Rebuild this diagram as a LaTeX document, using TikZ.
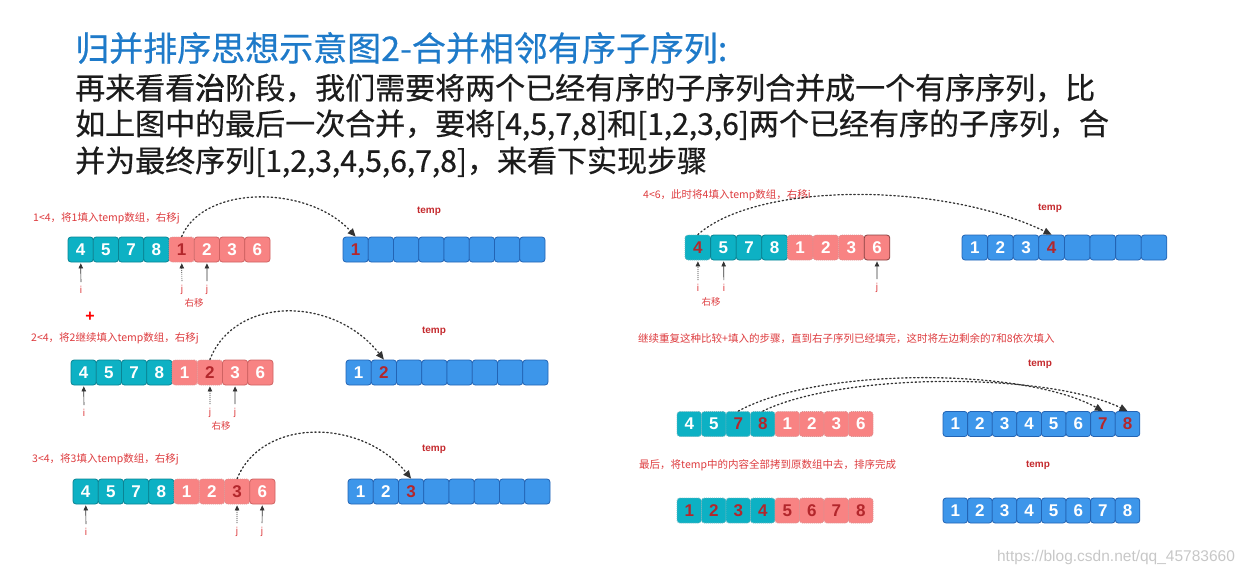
\documentclass[tikz,border=0pt]{standalone}
\usepackage{fontspec}
\usepackage{xcolor}
\usetikzlibrary{arrows.meta,positioning}
\newfontfamily\cjk{Noto Sans CJK SC}
\newfontfamily\cjkmid[FakeBold=0.6]{Noto Sans CJK SC}
\newfontfamily\cjkbold[FakeBold=2.2]{Noto Sans CJK SC}
\newfontfamily\digitfont{Liberation Sans}
\definecolor{titleblue}{HTML}{1E7AC9}
\definecolor{bodyink}{HTML}{1C1C1C}
\definecolor{seafill}{HTML}{0DB1C4}
\definecolor{seaedge}{HTML}{0A8494}
\definecolor{rosefill}{HTML}{F88383}
\definecolor{roseedge}{HTML}{CF6262}
\definecolor{skyfill}{HTML}{3D96EA}
\definecolor{skyedge}{HTML}{2364B4}
\definecolor{hotred}{HTML}{B3272C}
\definecolor{labelred}{HTML}{DD3B3E}
\definecolor{tempred}{HTML}{C42A2E}
\tikzset{
  cell/.style={
    rectangle, rounded corners=3pt, line width=0.8pt,
    minimum height=25pt, inner sep=0pt, text=white,
    font=\digitfont\bfseries\fontsize{17}{17}\selectfont
  },
  tealbox/.style={cell, draw=seaedge, fill=seafill},
  tealold/.style={cell, draw=seaedge!60, fill=seafill, dash pattern=on 1pt off 1pt},
  tealnew/.style={tealold, text=hotred},
  pinkbox/.style={cell, draw=roseedge, fill=rosefill},
  pinkdark/.style={pinkbox, draw=roseedge!65!black},
  pinkold/.style={cell, draw=roseedge!70, fill=rosefill, dash pattern=on 1pt off 1pt},
  pinknew/.style={pinkold, text=hotred},
  tempbox/.style={cell, draw=skyedge, fill=skyfill},
  tempnew/.style={tempbox, text=hotred},
  steplabel/.style={
    anchor=west, inner sep=0pt, text=labelred,
    font=\cjk\fontsize{10.5}{12}\selectfont
  },
  templabel/.style={
    inner sep=0pt, text=tempred,
    font=\digitfont\bfseries\fontsize{10}{12}\selectfont
  },
  ptrlabel/.style={
    inner sep=1pt, text=labelred,
    font=\digitfont\fontsize{10}{12}\selectfont
  },
  movelabel/.style={
    inner sep=0pt, text=labelred,
    font=\cjk\fontsize{9.5}{11}\selectfont
  },
  ptr/.style={
    -{Triangle[length=5pt,width=4.5pt]}, line width=0.7pt,
    draw=black!80, shorten <=3pt, shorten >=1pt
  },
  oldptr/.style={ptr, dash pattern=on 1pt off 1pt},
  hop/.style={
    -{Triangle[length=8pt,width=7pt]}, line width=1.3pt, draw=black!80,
    dash pattern=on 1.4pt off 2.6pt, line cap=round
  },
}

\begin{document}
\begin{tikzpicture}[x=1pt, y=-1pt]
  \useasboundingbox (0,0) rectangle (1247,576);
  \begin{scope}
  \clip (0,0) rectangle (1247,539);

  % Heading and text
  \node[anchor=west, inner sep=0pt, text=titleblue,
        font=\cjkmid\fontsize{34}{40}\selectfont] (title) at (75,48)
        {归并排序思想示意图2-合并相邻有序子序列:};
  \node[anchor=west, inner sep=0pt, text=bodyink,
        font=\cjkmid\fontsize{30}{36}\selectfont] (body1) at (75,88)
        {再来看看{\cjkbold 治}阶段，我们需要将两个已经有序的子序列合并成一个有序序列，比};
  \node[anchor=west, inner sep=0pt, text=bodyink,
        font=\cjkmid\fontsize{30}{36}\selectfont] (body2) at (75,125)
        {如上图中的最后一次合并，要将[4,5,7,8]和[1,2,3,6]两个已经有序的子序列，合};
  \node[anchor=west, inner sep=0pt, text=bodyink,
        font=\cjkmid\fontsize{30}{36}\selectfont] (body3) at (75,162)
        {并为最终序列[1,2,3,4,5,6,7,8]，来看下实现步骤};

  % Step 1: 1 < 4
  \node[steplabel] (s1) at (33,218) {1<4，将1填入temp数组，右移j};
  \node[templabel] (tl1) at (429,211) {temp};
  \foreach \v/\s [count=\k] in {4/tealbox,5/tealbox,7/tealbox,8/tealbox,
                                1/pinknew,2/pinkbox,3/pinkbox,6/pinkbox}
    \node[\s, minimum width=25.25pt] (l1-\k) at ({68+(\k-0.5)*25.25},249.5) {\v};
  \foreach \v/\s [count=\k] in {1/tempnew,{}/tempbox,{}/tempbox,{}/tempbox,
                                {}/tempbox,{}/tempbox,{}/tempbox,{}/tempbox}
    \node[\s, minimum width=25.25pt] (t1-\k) at ({343+(\k-0.5)*25.25},249.5) {\v};
  \node[ptrlabel] (l1i) at (81,290) {i};
  \node[ptrlabel] (l1jold) at (182,290) {j};
  \node[ptrlabel] (l1j) at (207,290) {j};
  \node[movelabel] (l1mv) at (194,303) {右移};
  \draw[ptr] (l1i) -- (l1-1);
  \draw[oldptr] (l1jold) -- (l1-5);
  \draw[ptr] (l1j) -- (l1-6);
  \draw[hop] (l1-5.north) .. controls +(22,-52) and +(-48,-52) .. (t1-1.north);

  % Step 2: 2 < 4
  \node[text=red, inner sep=0pt, font=\digitfont\bfseries\fontsize{16}{16}\selectfont]
        (cursor) at (90,317) {+};
  \node[steplabel] (s2) at (31,338) {2<4，将2继续填入temp数组，右移j};
  \node[templabel] (tl2) at (434,331) {temp};
  \foreach \v/\s [count=\k] in {4/tealbox,5/tealbox,7/tealbox,8/tealbox,
                                1/pinkold,2/pinknew,3/pinkbox,6/pinkbox}
    \node[\s, minimum width=25.25pt] (l2-\k) at ({71+(\k-0.5)*25.25},372.5) {\v};
  \foreach \v/\s [count=\k] in {1/tempbox,2/tempnew,{}/tempbox,{}/tempbox,
                                {}/tempbox,{}/tempbox,{}/tempbox,{}/tempbox}
    \node[\s, minimum width=25.25pt] (t2-\k) at ({346+(\k-0.5)*25.25},372.5) {\v};
  \node[ptrlabel] (l2i) at (84,413) {i};
  \node[ptrlabel] (l2jold) at (210,413) {j};
  \node[ptrlabel] (l2j) at (235,413) {j};
  \node[movelabel] (l2mv) at (221,426) {右移};
  \draw[ptr] (l2i) -- (l2-1);
  \draw[oldptr] (l2jold) -- (l2-6);
  \draw[ptr] (l2j) -- (l2-7);
  \draw[hop] (l2-6.north) .. controls +(25,-64) and +(-50,-64) .. (t2-2.north);

  % Step 3: 3 < 4
  \node[steplabel] (s3) at (32,459) {3<4，将3填入temp数组，右移j};
  \node[templabel] (tl3) at (434,449) {temp};
  \foreach \v/\s [count=\k] in {4/tealbox,5/tealbox,7/tealbox,8/tealbox,
                                1/pinkold,2/pinkold,3/pinknew,6/pinkbox}
    \node[\s, minimum width=25.25pt] (l3-\k) at ({73+(\k-0.5)*25.25},491.5) {\v};
  \foreach \v/\s [count=\k] in {1/tempbox,2/tempbox,3/tempnew,{}/tempbox,
                                {}/tempbox,{}/tempbox,{}/tempbox,{}/tempbox}
    \node[\s, minimum width=25.25pt] (t3-\k) at ({348+(\k-0.5)*25.25},491.5) {\v};
  \node[ptrlabel] (l3i) at (86,532) {i};
  \node[ptrlabel] (l3jold) at (237,532) {j};
  \node[ptrlabel] (l3j) at (262,532) {j};
  \draw[ptr] (l3i) -- (l3-1);
  \draw[oldptr] (l3jold) -- (l3-7);
  \draw[ptr] (l3j) -- (l3-8);
  \draw[hop] (l3-7.north) .. controls +(25,-61) and +(-50,-61) .. (t3-3.north);

  % Step 4: 4 < 6
  \node[steplabel] (s4) at (643,195) {4<6，此时将4填入temp数组，右移i};
  \node[templabel] (tl4) at (1050,208) {temp};
  \foreach \v/\s [count=\k] in {4/tealnew,5/tealbox,7/tealbox,8/tealbox,
                                1/pinkold,2/pinkold,3/pinkold,6/pinkdark}
    \node[\s, minimum width=25.6pt] (r1-\k) at ({685+(\k-0.5)*25.6},247.5) {\v};
  \foreach \v/\s [count=\k] in {1/tempbox,2/tempbox,3/tempbox,4/tempnew,
                                {}/tempbox,{}/tempbox,{}/tempbox,{}/tempbox}
    \node[\s, minimum width=25.6pt] (tr1-\k) at ({962+(\k-0.5)*25.6},247.5) {\v};
  \node[ptrlabel] (r1iold) at (698,288) {i};
  \node[ptrlabel] (r1i) at (724,288) {i};
  \node[ptrlabel] (r1j) at (877,288) {j};
  \node[movelabel] (r1mv) at (711,302) {右移};
  \draw[oldptr] (r1iold) -- (r1-1);
  \draw[ptr] (r1i) -- (r1-2);
  \draw[ptr] (r1j) -- (r1-8);
  \draw[hop] (r1-1.north) .. controls +(60,-53) and +(-110,-53) .. (tr1-4.north);

  % Step 5: copy the rest
  \node[steplabel] (s5) at (638,339)
        {继续重复这种比较+填入的步骤，直到右子序列已经填完，这时将左边剩余的7和8依次填入};
  \node[templabel] (tl5) at (1040,364) {temp};
  \foreach \v/\s [count=\k] in {4/tealold,5/tealold,7/tealnew,8/tealnew,
                                1/pinkold,2/pinkold,3/pinkold,6/pinkold}
    \node[\s, minimum width=24.5pt] (r2-\k) at ({677+(\k-0.5)*24.5},424) {\v};
  \foreach \v/\s [count=\k] in {1/tempbox,2/tempbox,3/tempbox,4/tempbox,
                                5/tempbox,6/tempbox,7/tempnew,8/tempnew}
    \node[\s, minimum width=24.6pt] (tr2-\k) at ({943+(\k-0.5)*24.6},424) {\v};
  \draw[hop] (r2-3.north) .. controls +(80,-44) and +(-80,-44) .. (tr2-7.north);
  \draw[hop] (r2-4.north) .. controls +(80,-39) and +(-80,-39) .. (tr2-8.north);

  % Step 6: copy back
  \node[steplabel] (s6) at (639,465) {最后，将temp中的内容全部拷到原数组中去，排序完成};
  \node[templabel] (tl6) at (1038,465) {temp};
  \foreach \v/\s [count=\k] in {1/tealnew,2/tealnew,3/tealnew,4/tealnew,
                                5/pinknew,6/pinknew,7/pinknew,8/pinknew}
    \node[\s, minimum width=24.5pt] (r3-\k) at ({677+(\k-0.5)*24.5},510.5) {\v};
  \foreach \v/\s [count=\k] in {1/tempbox,2/tempbox,3/tempbox,4/tempbox,
                                5/tempbox,6/tempbox,7/tempbox,8/tempbox}
    \node[\s, minimum width=24.6pt] (tr3-\k) at ({943+(\k-0.5)*24.6},510.5) {\v};
  \end{scope}

  \node[inner sep=0pt, text=black!22, font=\digitfont\fontsize{15.5}{16}\selectfont]
        (mark) at (1116,557) {https://blog.csdn.net/qq\_45783660};
\end{tikzpicture}
\end{document}
